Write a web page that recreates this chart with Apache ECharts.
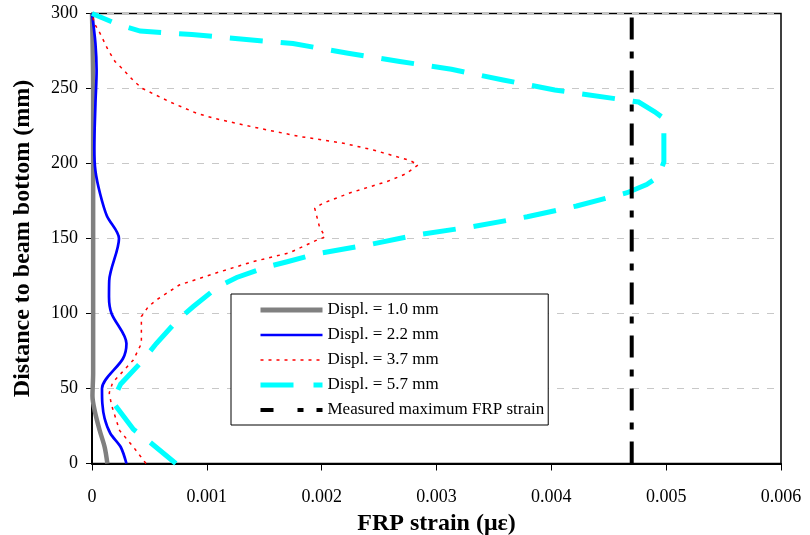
<!DOCTYPE html>
<html>
<head>
<meta charset="utf-8">
<script src="https://cdn.jsdelivr.net/npm/echarts@6/dist/echarts.min.js"></script>
<style>
  html, body { margin: 0; padding: 0; background: #fff; }
  #chart { width: 810px; height: 535px; }
</style>
</head>
<body>
<div id="chart"></div>
<script>
// FRP strain profiles along the beam height, [strain, distance from bottom (mm)]
const displ10 = [[0.000134,0],[0.00011,11],[0.000067,22],[0.000024,35],[0.000004,45],[0.00001,60],[0.00001,100],[0.00001,150],[0.00001,200],[0.00001,250],[0,300]];
const displ22 = [[0.0003,0],[0.00025,11],[0.00016,20],[0.00011,30],[0.00009,40],[0.000087,50],[0.00027,70],[0.0003,80],[0.00017,100],[0.000148,111],[0.00015,122],[0.000235,150],[0.00013,165],[0.00007,180],[0.00003,195],[0.00002,210],[0.00003,240],[0.00004,262],[0.00003,280],[0,300]];
const displ37 = [[0.00047,0],[0.00036,11],[0.00024,22],[0.00017,39],[0.00015,47],[0.00018,54],[0.00036,69],[0.00043,80],[0.00043,98],[0.00049,104.5],[0.00056,109],[0.00076,119],[0.00108,127],[0.0014,134.5],[0.00172,140.5],[0.00196,149],[0.00203,151],[0.00198,158],[0.00194,170],[0.00201,173.5],[0.00225,180.5],[0.00257,188],[0.00273,193],[0.00284,199],[0.00277,202],[0.00245,209],[0.00219,213.5],[0.00181,218],[0.00155,222],[0.00132,225.7],[0.00107,230],[0.00091,233.5],[0.00068,241],[0.00044,250],[0.00037,254.5],[0.00026,263.5],[0.0002,268],[0.00014,275.7],[0.00007,286.8],[0.00002,293.5],[0,300]];
const displ57 = [[0.00073,0],[0.0005,14.5],[0.00036,22.8],[0.0002,39],[0.00018,42],[0.00025,53],[0.00044,68.5],[0.00056,80],[0.00075,96],[0.00088,104.5],[0.0011,118],[0.00126,124],[0.00152,131],[0.0017,134.5],[0.00197,140],[0.00242,146],[0.0028,152],[0.00332,158],[0.00379,164.5],[0.00422,171.7],[0.00466,180.5],[0.00483,186],[0.00493,191],[0.00498,201],[0.00498,230],[0.0049,234.5],[0.00476,241],[0.00403,249],[0.00358,255.7],[0.00313,262.8],[0.00268,268],[0.00223,273.5],[0.00175,280],[0.00132,282.8],[0.00087,286],[0.00042,288.3],[0.00024,292.3],[0,300]];
const measuredMax = [[0.0047,0],[0.0047,300]];

const seriesNames = ['Displ. = 1.0 mm','Displ. = 2.2 mm','Displ. = 3.7 mm','Displ. = 5.7 mm','Measured maximum FRP strain'];
const xTickLabels = ['0','0.001','0.002','0.003','0.004','0.005','0.006'];
const yTickLabels = ['0','50','100','150','200','250','300'];

const serif = "'Liberation Serif', 'Times New Roman', serif";
const chart = echarts.init(document.getElementById('chart'), null, { renderer: 'canvas' });

function lineSeries(name, data, color, width, type, smooth) {
  return {
    name: name, type: 'line', data: data, symbol: 'none', smooth: smooth || false,
    animation: false, silent: true,
    lineStyle: { color: color, width: width, type: type, cap: 'butt', join: 'miter' },
    itemStyle: { color: color }
  };
}

chart.setOption({
  backgroundColor: '#fff',
  animation: false,
  textStyle: { fontFamily: serif },
  grid: { left: 92, right: 29, top: 13.5, bottom: 71.5, outerBoundsMode: 'none', containLabel: false,
    show: true, borderColor: '#000', borderWidth: 1.5 },
  xAxis: {
    type: 'value', min: 0, max: 0.006, interval: 0.001,
    name: 'FRP strain (\u03bc\u03b5)', nameLocation: 'middle', nameGap: 32,
    nameTextStyle: { fontFamily: serif, fontSize: 24, fontWeight: 'bold', color: '#000' },
    axisLine: { show: true, lineStyle: { color: '#000', width: 2 } },
    axisTick: { show: true, length: 7, lineStyle: { color: '#000', width: 1 } },
    axisLabel: { margin: 25, fontFamily: serif, fontSize: 18, color: '#000',
      formatter: function (v, i) { return xTickLabels[i]; } },
    splitLine: { show: false }
  },
  yAxis: {
    type: 'value', min: 0, max: 300, interval: 50,
    name: 'Distance to beam bottom (mm)', nameLocation: 'middle', nameGap: 57,
    nameTextStyle: { fontFamily: serif, fontSize: 24, fontWeight: 'bold', color: '#000' },
    axisLine: { show: true, lineStyle: { color: '#000', width: 2 } },
    axisTick: { show: true, length: 6, lineStyle: { color: '#000', width: 1 } },
    axisLabel: { margin: 14, fontFamily: serif, fontSize: 18, color: '#000',
      formatter: function (v, i) { return yTickLabels[i]; } },
    splitLine: { show: true, lineStyle: { color: '#c8c8c8', width: 1, type: [7, 8] } }
  },
  legend: {
    orient: 'vertical', left: 231, top: 294,
    padding: [6, 4, 5, 27],
    backgroundColor: '#fff', borderColor: '#000', borderWidth: 1,
    itemWidth: 62, itemHeight: 14, itemGap: 5,
    itemStyle: { opacity: 0 },
    textStyle: { fontFamily: serif, fontSize: 17, lineHeight: 20, color: '#000' },
    data: [
      { name: seriesNames[0], lineStyle: { width: 5 } },
      { name: seriesNames[1], lineStyle: { width: 2.7 } },
      { name: seriesNames[2], lineStyle: { width: 1.5 } },
      { name: seriesNames[3], lineStyle: { width: 5, type: [33, 20] } },
      { name: seriesNames[4], lineStyle: { width: 4, type: [13, 24, 6, 13] } }
    ]
  },
  series: [
    lineSeries(seriesNames[0], displ10, '#808080', 4.5, 'solid', 0.3),
    lineSeries(seriesNames[1], displ22, '#0000ff', 2.7, 'solid', 0.3),
    lineSeries(seriesNames[2], displ37, '#ff0000', 1.5, [3, 5]),
    lineSeries(seriesNames[3], displ57, '#00ffff', 5, [33, 18]),
    lineSeries(seriesNames[4], measuredMax, '#000000', 4, [22, 12, 7, 12])
  ]
});
</script>
</body>
</html>
